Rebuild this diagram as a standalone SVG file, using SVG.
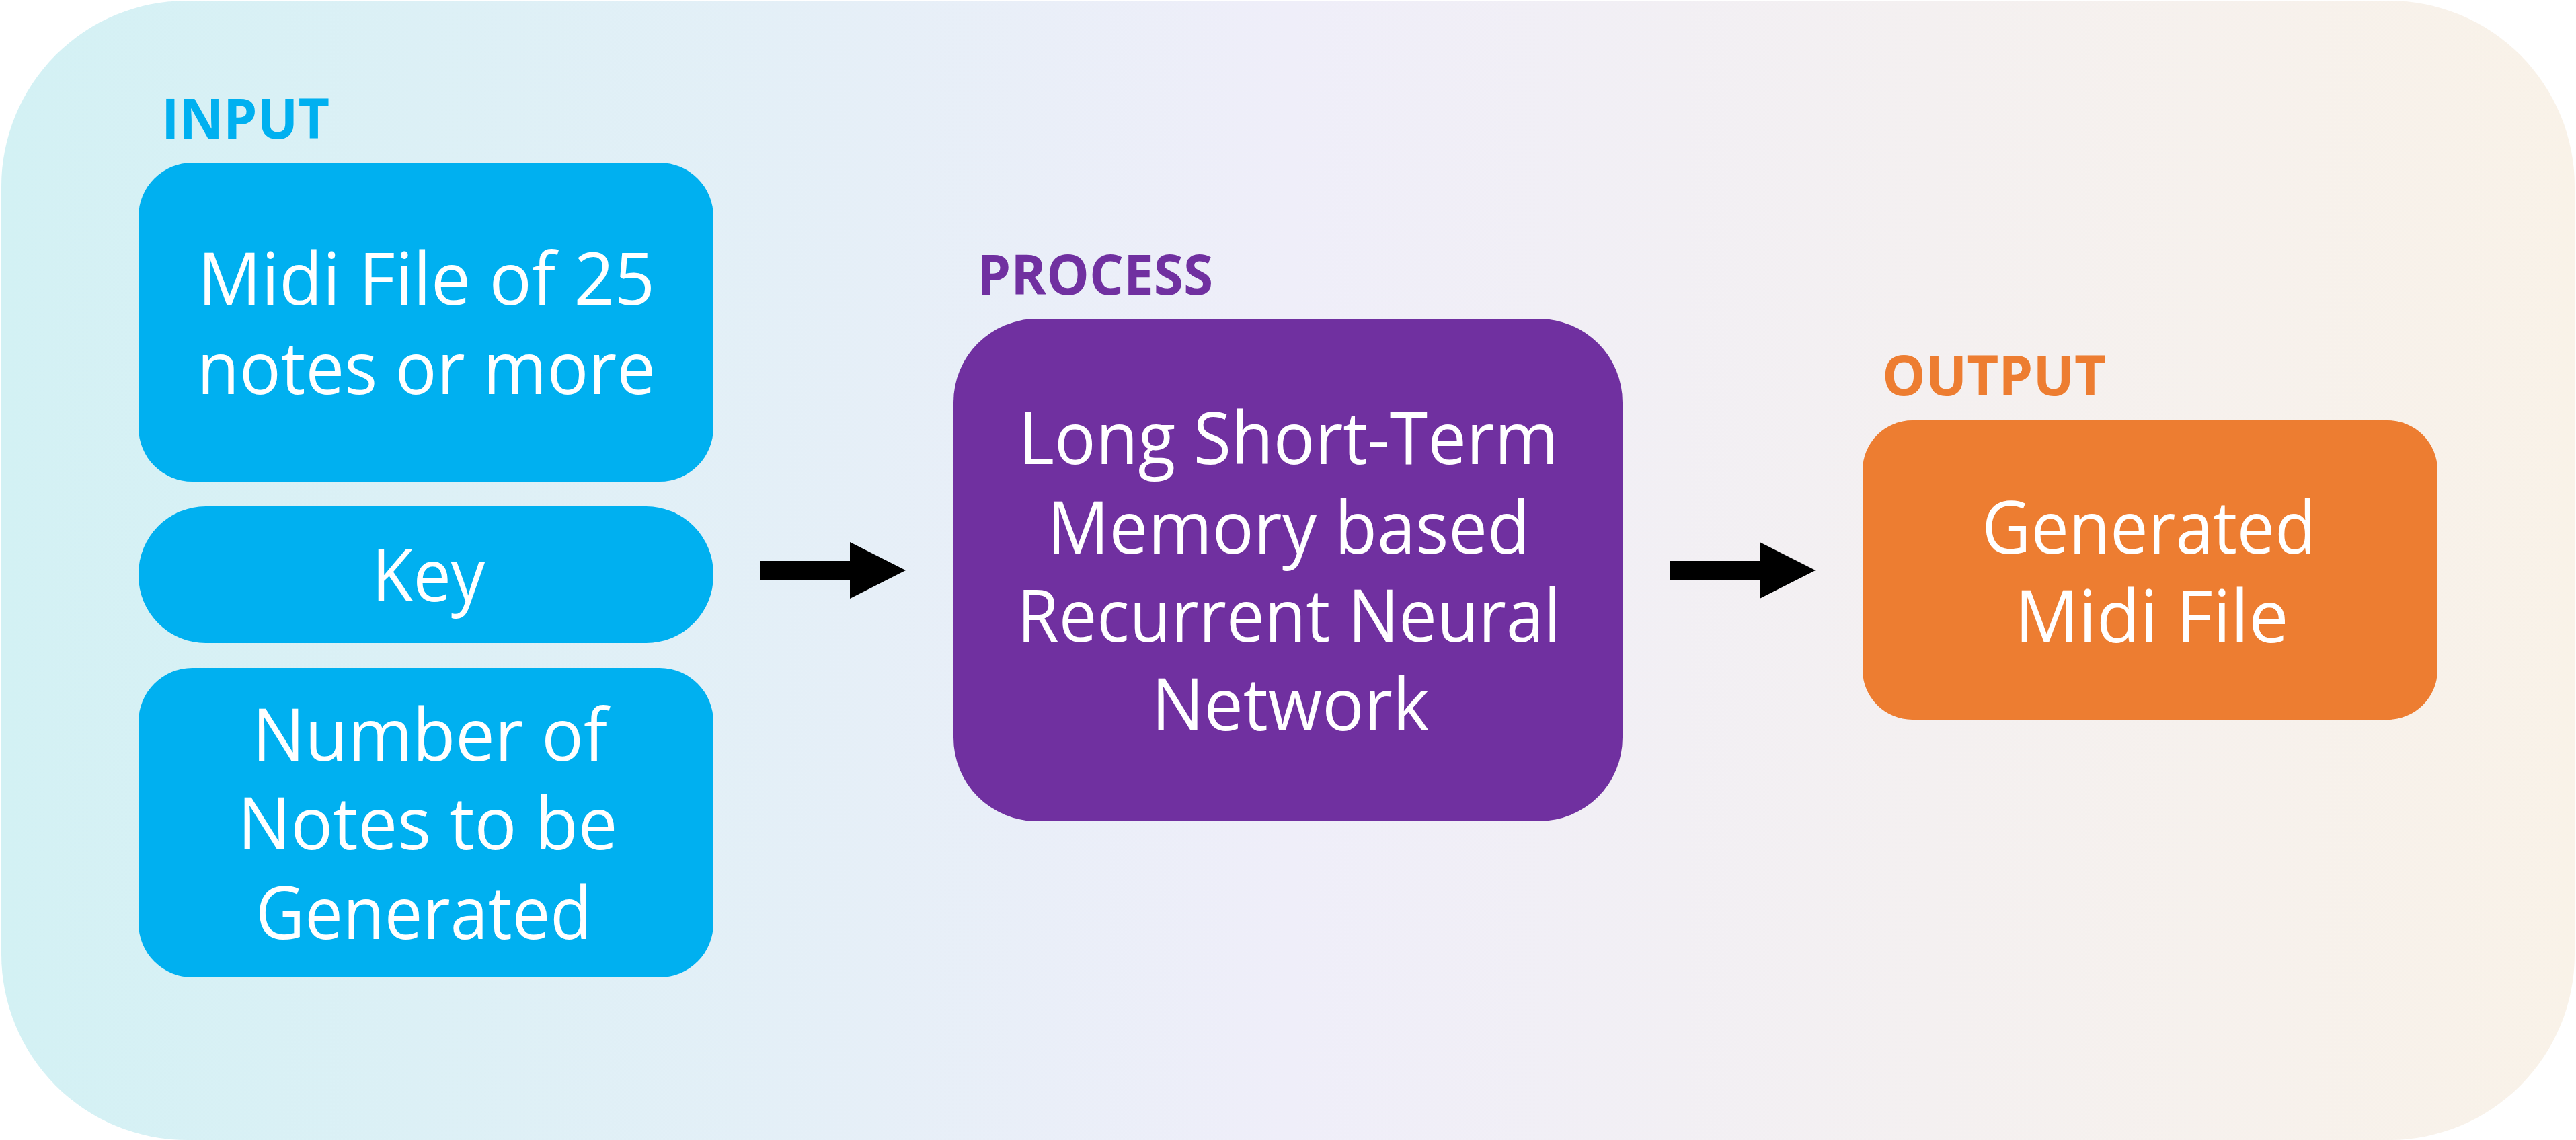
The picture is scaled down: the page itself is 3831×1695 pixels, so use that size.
<svg xmlns="http://www.w3.org/2000/svg" width="3831" height="1695" viewBox="0 0 3831 1695">
<defs>
<linearGradient id="bg" x1="0" y1="0" x2="1" y2="0">
<stop offset="0" stop-color="#d3f1f4"/>
<stop offset="0.5" stop-color="#efeef9"/>
<stop offset="1" stop-color="#f9f2e8"/>
</linearGradient>
<style>
.lbl{font-family:"Open Sans","Noto Sans","DejaVu Sans",sans-serif;font-weight:700;font-size:83px}
.t{font-family:"Open Sans","Noto Sans","DejaVu Sans",sans-serif;font-size:108px;fill:#ffffff;text-anchor:middle}
.blue{fill:#00b0f0}
.purple{fill:#7030a0}
.orange{fill:#ed7d31}
.arrow{fill:#000000}
</style>
</defs>
<rect id="background" x="2" y="1" width="3827" height="1694" rx="276" ry="276" fill="url(#bg)"/>
<g id="labels">
<text class="lbl blue" x="240" y="206" textLength="250" lengthAdjust="spacingAndGlyphs">INPUT</text>
<text class="lbl purple" x="1453" y="438" textLength="351" lengthAdjust="spacingAndGlyphs">PROCESS</text>
<text class="lbl orange" x="2799" y="588" textLength="333" lengthAdjust="spacingAndGlyphs">OUTPUT</text>
</g>
<g id="node-midi-input">
<rect x="206" y="242" width="855" height="474" rx="80" ry="80" class="blue"/>
<text class="t" x="634" y="453" textLength="680" lengthAdjust="spacingAndGlyphs">Midi File of 25</text>
<text class="t" x="634" y="586" textLength="682" lengthAdjust="spacingAndGlyphs">notes or more</text>
</g>
<g id="node-key">
<rect x="206" y="753" width="855" height="203" rx="100" ry="100" class="blue"/>
<text class="t" x="637" y="894" textLength="168" lengthAdjust="spacingAndGlyphs">Key</text>
</g>
<g id="node-number-of-notes">
<rect x="206" y="993" width="855" height="460" rx="80" ry="80" class="blue"/>
<text class="t" x="639" y="1131" textLength="528" lengthAdjust="spacingAndGlyphs">Number of</text>
<text class="t" x="636" y="1263" textLength="565" lengthAdjust="spacingAndGlyphs">Notes to be</text>
<text class="t" x="630" y="1396" textLength="500" lengthAdjust="spacingAndGlyphs">Generated</text>
</g>
<g id="node-lstm">
<rect x="1418" y="474" width="995" height="747" rx="124" ry="124" class="purple"/>
<text class="t" x="1916" y="690" textLength="803" lengthAdjust="spacingAndGlyphs">Long Short-Term</text>
<text class="t" x="1916" y="823" textLength="718" lengthAdjust="spacingAndGlyphs">Memory based</text>
<text class="t" x="1917" y="954" textLength="809" lengthAdjust="spacingAndGlyphs">Recurrent Neural</text>
<text class="t" x="1919" y="1086" textLength="413" lengthAdjust="spacingAndGlyphs">Network</text>
</g>
<g id="node-output">
<rect x="2770" y="625" width="855" height="445" rx="74" ry="74" class="orange"/>
<text class="t" x="3196" y="823" textLength="497" lengthAdjust="spacingAndGlyphs">Generated</text>
<text class="t" x="3200" y="955" textLength="407" lengthAdjust="spacingAndGlyphs">Midi File</text>
</g>
<g id="connectors">
<polygon class="arrow" points="1131,834 1264,834 1264,806 1347,848 1264,890 1264,862 1131,862"/>
<polygon class="arrow" points="2484,834 2617,834 2617,806 2700,848 2617,890 2617,862 2484,862"/>
</g>
</svg>
